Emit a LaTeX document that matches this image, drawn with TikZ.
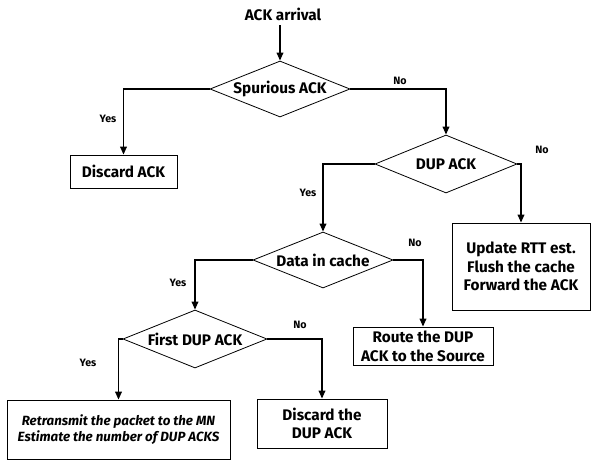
\documentclass[tikz,border=0pt]{standalone}
\usepackage{fontspec}
\setmainfont{Fira Sans}
\usetikzlibrary{shapes.geometric,arrows.meta}
\begin{document}
\begin{tikzpicture}[x=0.75pt,y=-0.75pt,
  dia/.style={draw,diamond,inner sep=0pt,line width=0.6pt,font=\fontsize{11.5}{13}\selectfont\bfseries},
  box/.style={draw,rectangle,inner sep=0pt,line width=0.6pt,align=center,font=\fontsize{11.5}{14}\selectfont\bfseries},
  lab/.style={font=\fontsize{8}{9}\selectfont\bfseries},
  arr/.style={line width=1.1pt,-{Triangle[length=6pt,width=5pt]}}]
\useasboundingbox (0,0) rectangle (593,460);
\node[font=\fontsize{11.5}{13}\selectfont\bfseries] (start) at (283,14) {ACK arrival};
\node[dia,minimum width=105pt,minimum height=42pt] (d1) at (280,89) {\makebox[0pt]{Spurious ACK}};
\node[dia,minimum width=106.5pt,minimum height=43.5pt] (d2) at (446,164) {\makebox[0pt]{DUP ACK}};
\node[dia,minimum width=105pt,minimum height=42pt] (d3) at (323,260) {\makebox[0pt]{Data in cache}};
\node[dia,minimum width=108pt,minimum height=43.5pt] (d4) at (195,339) {\makebox[0pt]{First DUP ACK}};
\node[box,minimum width=80.25pt,minimum height=24.75pt] (b1) at (123.5,171.5) {Discard ACK};
\node[box,minimum width=103.5pt,minimum height=65.25pt] (b2) at (521,266.5) {Update RTT est.\\Flush the cache\\Forward the ACK};
\node[box,minimum width=105pt,minimum height=28.5pt] (b3) at (423,346) {Route the DUP\\ACK to the Source};
\node[box,minimum width=167.25pt,minimum height=44.25pt,font=\fontsize{10}{12}\selectfont\bfseries\itshape] (b4) at (118.5,429.5) {Retransmit the packet to the MN\\Estimate the number of DUP ACKS};
\node[box,minimum width=97.5pt,minimum height=36.75pt] (b5) at (322,423.5) {Discard the\\DUP ACK};
\draw[arr] (start.south -| d1.north) -- (d1.north);
\draw[arr] (d1.west) -| (b1.north);
\draw[arr] (d1.east) -| (d2.north);
\draw[arr] (d2.west) -| (d3.north);
\draw[arr] (d2.east) -| (b2.north);
\draw[arr] (d3.east) -| (b3.north);
\draw[arr] (d3.west) -| (d4.north);
\draw[arr] (d4.west) -| (b4.north);
\draw[arr] (d4.east) -| (b5.north);
\node[lab] (l1) at (108,119) {Yes};
\node[lab] (l2) at (400,81) {No};
\node[lab] (l3) at (308,193) {Yes};
\node[lab] (l4) at (542,150) {No};
\node[lab] (l5) at (415,243) {No};
\node[lab] (l6) at (178,283) {Yes};
\node[lab] (l7) at (88,363) {Yes};
\node[lab] (l8) at (300,325) {No};
\end{tikzpicture}
\end{document}
